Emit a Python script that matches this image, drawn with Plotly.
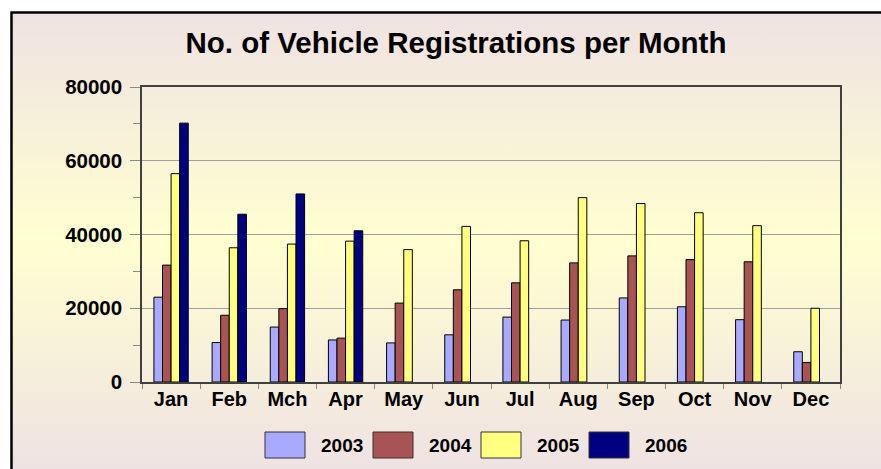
import base64
import plotly.graph_objects as go

months = ["Jan", "Feb", "Mch", "Apr", "May", "Jun", "Jul", "Aug", "Sep", "Oct", "Nov", "Dec"]
years = ["2003", "2004", "2005", "2006"]
v2003 = [23000, 10700, 14900, 11400, 10600, 12800, 17600, 16800, 22800, 20400, 16900, 8200]
v2004 = [31700, 18100, 19900, 11900, 21400, 25000, 26900, 32300, 34200, 33200, 32600, 5300]
v2005 = [56500, 36400, 37400, 38200, 35900, 42200, 38300, 50000, 48400, 45900, 42400, 20000]
v2006 = [70200, 45500, 51000, 41000, None, None, None, None, None, None, None, None]
colors = ["#A9A9FF", "#A85454", "#FFFF80", "#000080"]
series = [v2003, v2004, v2005, v2006]

W, H = 881, 469
ML, MR, MT, MB = 142, 41, 87, 87
PW, PH = W - ML - MR, H - MT - MB


def px(x):
    return (x - ML) / PW


def py(y):
    return (H - MB - y) / PH


fig = go.Figure()
for name, vals, col in zip(years, series, colors):
    fig.add_trace(go.Bar(x=months, y=vals, name=name, showlegend=False,
                         marker=dict(color=col, line=dict(color="#000000", width=1))))

svg = (
    '<svg xmlns="http://www.w3.org/2000/svg" width="100" height="100" preserveAspectRatio="none">'
    '<defs><linearGradient id="g" x1="0" y1="0" x2="0" y2="1">'
    '<stop offset="0" stop-color="#EFE2E3"/>'
    '<stop offset="0.5" stop-color="#FFFFD0"/>'
    '<stop offset="1" stop-color="#EFE2E3"/>'
    '</linearGradient></defs>'
    '<rect width="100" height="100" fill="url(#g)"/></svg>'
)
uri = "data:image/svg+xml;base64," + base64.b64encode(svg.encode()).decode()

font = "Arial, 'Liberation Sans', sans-serif"

shapes = [dict(type="rect", xref="paper", yref="paper",
               x0=px(11.5), x1=px(900), y0=py(12.5), y1=py(500),
               line=dict(color="#000000", width=2.5), fillcolor="rgba(0,0,0,0)", layer="above")]
annotations = []
box_x = [265, 373, 481, 589]
for i, (name, col) in enumerate(zip(years, colors)):
    x0 = box_x[i]
    shapes.append(dict(type="rect", xref="paper", yref="paper",
                       x0=px(x0), x1=px(x0 + 40), y0=py(458), y1=py(432),
                       line=dict(color="#333333", width=1), fillcolor=col))
    annotations.append(dict(text="<b>%s</b>" % name, xref="paper", yref="paper",
                            x=px(x0 + 54), y=py(445), xanchor="left", yanchor="middle",
                            showarrow=False, font=dict(family=font, size=19, color="#000000")))

fig.update_layout(
    width=W, height=H,
    margin=dict(l=ML, r=MR, t=MT, b=MB),
    paper_bgcolor="#FFFFFF",
    plot_bgcolor="rgba(0,0,0,0)",
    barmode="group", bargap=0.41, bargroupgap=0,
    title=dict(text="<b>No. of Vehicle Registrations per Month</b>",
               x=456 / W, xref="container", xanchor="center",
               y=1 - 43 / H, yref="container", yanchor="middle",
               font=dict(family=font, size=29.5, color="#000000")),
    font=dict(family=font, color="#000000"),
    images=[dict(source=uri, xref="paper", yref="paper", x=px(11), y=py(12),
                 sizex=(W - 11) / PW, sizey=(H - 12) / PH,
                 xanchor="left", yanchor="top", sizing="stretch", layer="below")],
    shapes=shapes,
    annotations=annotations,
    xaxis=dict(type="category", showline=True, linecolor="#404040", linewidth=1.5, mirror=True,
               ticks="outside", tickson="boundaries", ticklen=5, tickcolor="#888888",
               ticklabelstandoff=-2,
               tickfont=dict(family=font, size=20, color="#000000"),
               tickprefix="<b>", ticksuffix="</b>", showgrid=False),
    yaxis=dict(range=[0, 80000], dtick=20000, tickformat="d",
               showline=True, linecolor="#404040", linewidth=1.5, mirror=True,
               ticks="outside", ticklen=10, tickcolor="#888888", ticklabelstandoff=4,
               showgrid=True, gridcolor="#A0A0A0", gridwidth=1, zeroline=False,
               minor=dict(dtick=10000, ticks="outside", ticklen=7, tickcolor="#888888"),
               tickfont=dict(family=font, size=20.5, color="#000000"),
               tickprefix="<b>", ticksuffix="</b>"),
)

fig.write_html("out.html", config={"displayModeBar": False},
               post_script="document.body.style.margin='0';")
